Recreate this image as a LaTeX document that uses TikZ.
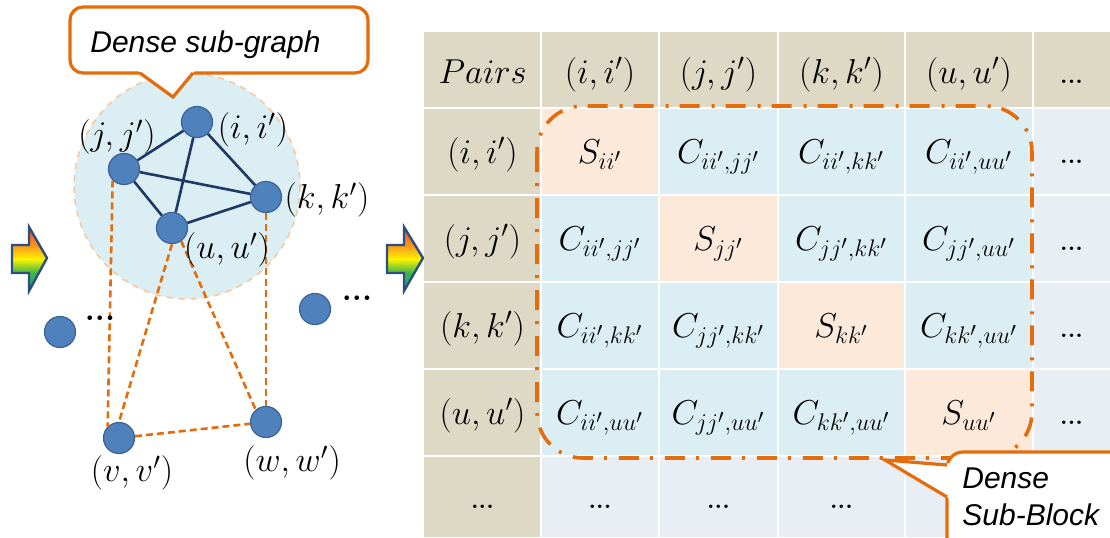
\documentclass[tikz,border=0pt]{standalone}
\usepackage{fontspec}
\newfontfamily\callfont{Liberation Sans}
\DeclareMathSizes{16.5}{16.5}{12.5}{10}
\DeclareMathSizes{16}{16}{12}{9.5}
\definecolor{hdr}{HTML}{DDD9C4}
\definecolor{diag}{HTML}{FDE9D9}
\definecolor{offd}{HTML}{DAEEF3}
\definecolor{rest}{HTML}{E9EDF4}
\definecolor{orng}{HTML}{E46C0A}
\definecolor{lorng}{HTML}{F9C89B}
\definecolor{nodefill}{HTML}{4F81BD}
\definecolor{nodeedge}{HTML}{3A6296}
\definecolor{navy}{HTML}{1F3864}
\definecolor{arrblue}{HTML}{2E4D80}
\definecolor{diskfill}{HTML}{DAEEF3}
\definecolor{arT}{HTML}{1C9B8E}
\definecolor{arG}{HTML}{39B54A}
\definecolor{arY}{HTML}{FFF200}
\definecolor{arO}{HTML}{F7931E}
\definecolor{arR}{HTML}{F04E23}
\pgfdeclareverticalshading{rainbowarrow}{100bp}{color(0bp)=(arT); color(25bp)=(arT); color(39bp)=(arG); color(50bp)=(arY); color(61bp)=(arO); color(75bp)=(arR); color(100bp)=(arR)}
\begin{document}
\begin{tikzpicture}[x=0.5pt,y=-0.5pt,
  gnode/.style={circle, fill=nodefill, draw=nodeedge, line width=0.6pt, minimum size=15.5pt, inner sep=0pt},
  sedge/.style={draw=navy, line width=1.3pt},
  dedge/.style={draw=orng, line width=1.3pt, dash pattern=on 3.5pt off 2pt},
  glabel/.style={inner sep=0pt, font=\fontsize{16}{19}\selectfont},
  gdots/.style={inner sep=0pt, font=\fontsize{16}{18}\selectfont\bfseries},
  ctext/.style={anchor=base, inner sep=0pt, font=\fontsize{16.5}{19}\selectfont},
  cdots/.style={anchor=base, inner sep=0pt, font=\fontsize{12}{13}\selectfont\bfseries},
  calltext/.style={anchor=base west, inner sep=0pt, font=\callfont\itshape\fontsize{15}{18}\selectfont},
  callline/.style={draw=orng, line width=1.6pt},
  blockline/.style={draw=orng, line width=1.8pt, dash pattern=on 10pt off 5.5pt on 1.5pt off 6pt},
  flowarrow/.style={shading=rainbowarrow, draw=arrblue, line width=1.2pt, line join=miter}
]
\useasboundingbox (0,0) rectangle (1110,537);
\clip (0,0) rectangle (1110,537);

% ---------- left: graph ----------
\path[fill=diskfill, draw=lorng, line width=0.8pt, dashed] (187,186) circle[radius=113];

\node[gnode] (ni) at (197,122) {};
\node[gnode] (nj) at (124,169) {};
\node[gnode] (nk) at (266,197) {};
\node[gnode] (nu) at (172,228) {};
\node[gnode] (nv) at (119,438) {};
\node[gnode] (nw) at (266,422) {};
\node[gnode] (nl) at (60,332) {};
\node[gnode] (nr) at (315,309) {};

\draw[sedge] (ni) -- (nj);
\draw[sedge] (ni) -- (nk);
\draw[sedge] (ni) -- (nu);
\draw[sedge] (nj) -- (nk);
\draw[sedge] (nj) -- (nu);
\draw[sedge] (nk) -- (nu);

\draw[dedge] (nj.south west) -- (nv.north west);
\draw[dedge] (nu.south) -- (nv.north);
\draw[dedge] (nu.-55) -- (nw.130);
\draw[dedge] (nk.south) -- (nw.north);
\draw[dedge] (nv) -- (nw);

\node[glabel] (li) at (253,130) {$(i,i')$};
\node[glabel] (lj) at (117,137) {$(j,j')$};
\node[glabel] (lk) at (327,200) {$(k,k')$};
\node[glabel] (lu) at (227,250) {$(u,u')$};
\node[glabel] (lv) at (132,473) {$(v,v')$};
\node[glabel] (lw) at (292,463) {$(w,w')$};
\node[gdots] (dl) at (100,318) {...};
\node[gdots] (dr) at (357,298) {...};

% callout: dense sub-graph
\path[callline, fill=white, rounded corners=6.5pt] (70,7) rectangle (368,73);
\coordinate (sga) at (140,73);
\coordinate (sgb) at (193,73);
\coordinate (sgtip) at (173,97);
\fill[white] (138,70.5) -- (sgtip) -- (195,70.5) -- cycle;
\draw[callline, line join=miter] (sga) -- (sgtip) -- (sgb);
\node[calltext] (sgtext) at (90,52) {Dense sub-graph};

% ---------- arrows ----------
\path[flowarrow] (12,245) -- (29,245) -- (29,227) -- (47,258) -- (29,291) -- (29,273) -- (12,273) -- cycle;
\path[flowarrow] (387,245) -- (404,245) -- (404,227) -- (423,258) -- (404,291) -- (404,273) -- (387,273) -- cycle;

% ---------- right: table ----------
\fill[hdr] (424,32) rectangle (1110,108);
\fill[hdr] (424,108) rectangle (541,537);
\fill[offd] (541,108) rectangle (1033,456);
\fill[diag] (541,108) rectangle (659,195);
\fill[diag] (659,195) rectangle (778,282);
\fill[diag] (778,282) rectangle (905,369);
\fill[diag] (905,369) rectangle (1033,456);
\fill[rest] (1033,108) rectangle (1110,537);
\fill[rest] (541,456) rectangle (1033,537);
\foreach \gx in {541,659,778,905,1033} \draw[white, line width=1pt] (\gx,32) -- (\gx,537);
\foreach \gy in {108,195,282,369,456} \draw[white, line width=1pt] (424,\gy) -- (1110,\gy);

% header row
\node[ctext] (t00) at (482.5,83) {$Pairs$};
\node[ctext] (t01) at (600,83) {$(i,i')$};
\node[ctext] (t02) at (718.5,83) {$(j,j')$};
\node[ctext] (t03) at (841.5,83) {$(k,k')$};
\node[ctext] (t04) at (969,83) {$(u,u')$};
\node[cdots] (t05) at (1071.5,83) {...};
% row 1
\node[ctext] (t10) at (482.5,163) {$(i,i')$};
\node[ctext] (t11) at (600,163) {$S_{ii'}$};
\node[ctext] (t12) at (718.5,163) {$C_{ii',jj'}$};
\node[ctext] (t13) at (841.5,163) {$C_{ii',kk'}$};
\node[ctext] (t14) at (969,163) {$C_{ii',uu'}$};
\node[cdots] (t15) at (1071.5,163) {...};
% row 2
\node[ctext] (t20) at (482.5,250) {$(j,j')$};
\node[ctext] (t21) at (600,250) {$C_{ii',jj'}$};
\node[ctext] (t22) at (718.5,250) {$S_{jj'}$};
\node[ctext] (t23) at (841.5,250) {$C_{jj',kk'}$};
\node[ctext] (t24) at (969,250) {$C_{jj',uu'}$};
\node[cdots] (t25) at (1071.5,250) {...};
% row 3
\node[ctext] (t30) at (482.5,337) {$(k,k')$};
\node[ctext] (t31) at (600,337) {$C_{ii',kk'}$};
\node[ctext] (t32) at (718.5,337) {$C_{jj',kk'}$};
\node[ctext] (t33) at (841.5,337) {$S_{kk'}$};
\node[ctext] (t34) at (969,337) {$C_{kk',uu'}$};
\node[cdots] (t35) at (1071.5,337) {...};
% row 4
\node[ctext] (t40) at (482.5,424) {$(u,u')$};
\node[ctext] (t41) at (600,424) {$C_{ii',uu'}$};
\node[ctext] (t42) at (718.5,424) {$C_{jj',uu'}$};
\node[ctext] (t43) at (841.5,424) {$C_{kk',uu'}$};
\node[ctext] (t44) at (969,424) {$S_{uu'}$};
\node[cdots] (t45) at (1071.5,424) {...};
% row 5
\node[cdots] (t50) at (482.5,508) {...};
\node[cdots] (t51) at (600,508) {...};
\node[cdots] (t52) at (718.5,508) {...};
\node[cdots] (t53) at (841.5,508) {...};

% dense sub-block outline
\path[blockline, rounded corners=23pt] (537,106) rectangle (1032,458);

% callout: dense sub-block
\path[callline, fill=white, rounded corners=8pt] (947,452) rectangle (1140,570);
\coordinate (sba) at (947,465);
\coordinate (sbb) at (947,497);
\coordinate (sbtip) at (885,460);
\fill[white] (sbtip) -- (950,463.5) -- (950,499) -- cycle;
\draw[callline, line join=miter] (sba) -- (sbtip) -- (sbb);
\node[calltext] (sbt1) at (962,488) {Dense};
\node[calltext] (sbt2) at (962,525) {Sub-Block};
\end{tikzpicture}
\end{document}
